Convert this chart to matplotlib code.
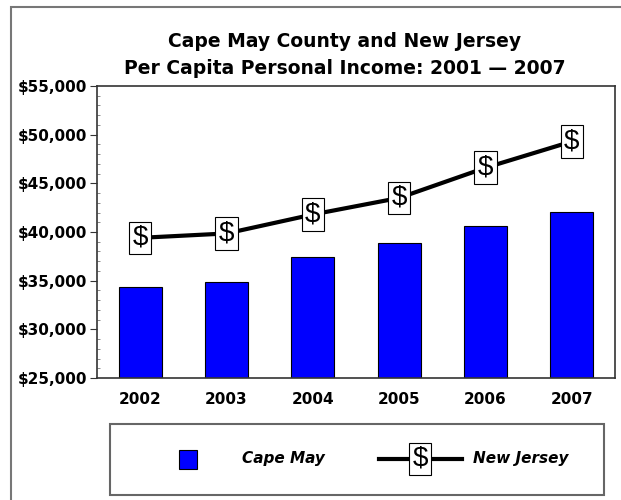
import numpy as np
import matplotlib
matplotlib.use("Agg")
from matplotlib import pyplot as plt
from matplotlib.patches import Rectangle
from matplotlib.lines import Line2D
from matplotlib.ticker import FuncFormatter, MultipleLocator

years = ["2002", "2003", "2004", "2005", "2006", "2007"]
cape_may = [34400, 34850, 37400, 38850, 40600, 42050]
new_jersey = [39400, 39850, 41800, 43500, 46600, 49300]

TITLE = "Cape May County and New Jersey\nPer Capita Personal Income: 2001 \u2014 2007"
FONT = "DejaVu Sans"

fig = plt.figure(figsize=(6.21, 5.0), dpi=100)
ax = fig.add_axes([97/621, 1 - 378/500, 518/621, 292/500])

x = np.arange(len(years))
ax.bar(x, cape_may, width=0.5, color="#0000ff", edgecolor="black", linewidth=0.8, zorder=2)
ax.plot(x, new_jersey, color="black", linewidth=3, zorder=3)
box = dict(boxstyle="square,pad=0.12", fc="white", ec="black", lw=0.8)
for xi, yi in zip(x, new_jersey):
    ax.text(xi, yi, "$", ha="center", va="center", fontsize=20, family="Liberation Sans",
            zorder=4, bbox=box)

ax.set_xlim(-0.5, len(years) - 0.5)
ax.set_ylim(25000, 55000)
ax.yaxis.set_major_locator(MultipleLocator(5000))
ax.yaxis.set_minor_locator(MultipleLocator(1000))
ax.yaxis.set_major_formatter(FuncFormatter(lambda v, p: "${:,.0f}".format(v)))
ax.set_xticks(x)
ax.set_xticklabels(years)
ax.tick_params(axis="x", length=0, pad=10)
ax.tick_params(axis="y", which="major", length=5, pad=2, color="#333333")
ax.tick_params(axis="y", which="minor", length=2, direction="in", color="#777777")
for lab in ax.get_xticklabels() + ax.get_yticklabels():
    lab.set_fontweight("bold")
    lab.set_fontsize(11)
    lab.set_family(FONT)
for s in ax.spines.values():
    s.set_color("#333333")
    s.set_linewidth(1.2)

fig.text(345/621, 1 - 55/500, TITLE, ha="center", va="center", fontsize=13.5,
         fontweight="bold", family=FONT, linespacing=1.5)

# outer frame
fig.add_artist(Rectangle((11/621, -0.1), 1.1, 1 - 7/500 + 0.1, transform=fig.transFigure,
                         fill=False, ec="#777777", lw=1.5))

# legend box
fig.add_artist(Rectangle((110/621, 1 - 495/500), 494/621, 71/500, transform=fig.transFigure,
                         fill=False, ec="#666666", lw=1.5))
fig.add_artist(Rectangle((179/621, 1 - 469/500), 18/621, 19/500, transform=fig.transFigure,
                         fc="#0000ff", ec="black", lw=0.8))
fig.text(242/621, 1 - 459/500, "Cape May", ha="left", va="center", fontsize=11,
         fontweight="bold", style="italic", family=FONT)
fig.add_artist(Line2D([379/621, 462/621], [1 - 459/500, 1 - 459/500], transform=fig.transFigure,
                      color="black", lw=3))
fig.text(420/621, 1 - 459/500, "$", ha="center", va="center", fontsize=20, family="Liberation Sans",
         bbox=box)
fig.text(473/621, 1 - 459/500, "New Jersey", ha="left", va="center", fontsize=11,
         fontweight="bold", style="italic", family=FONT)

fig.savefig("out.png", dpi=100)
